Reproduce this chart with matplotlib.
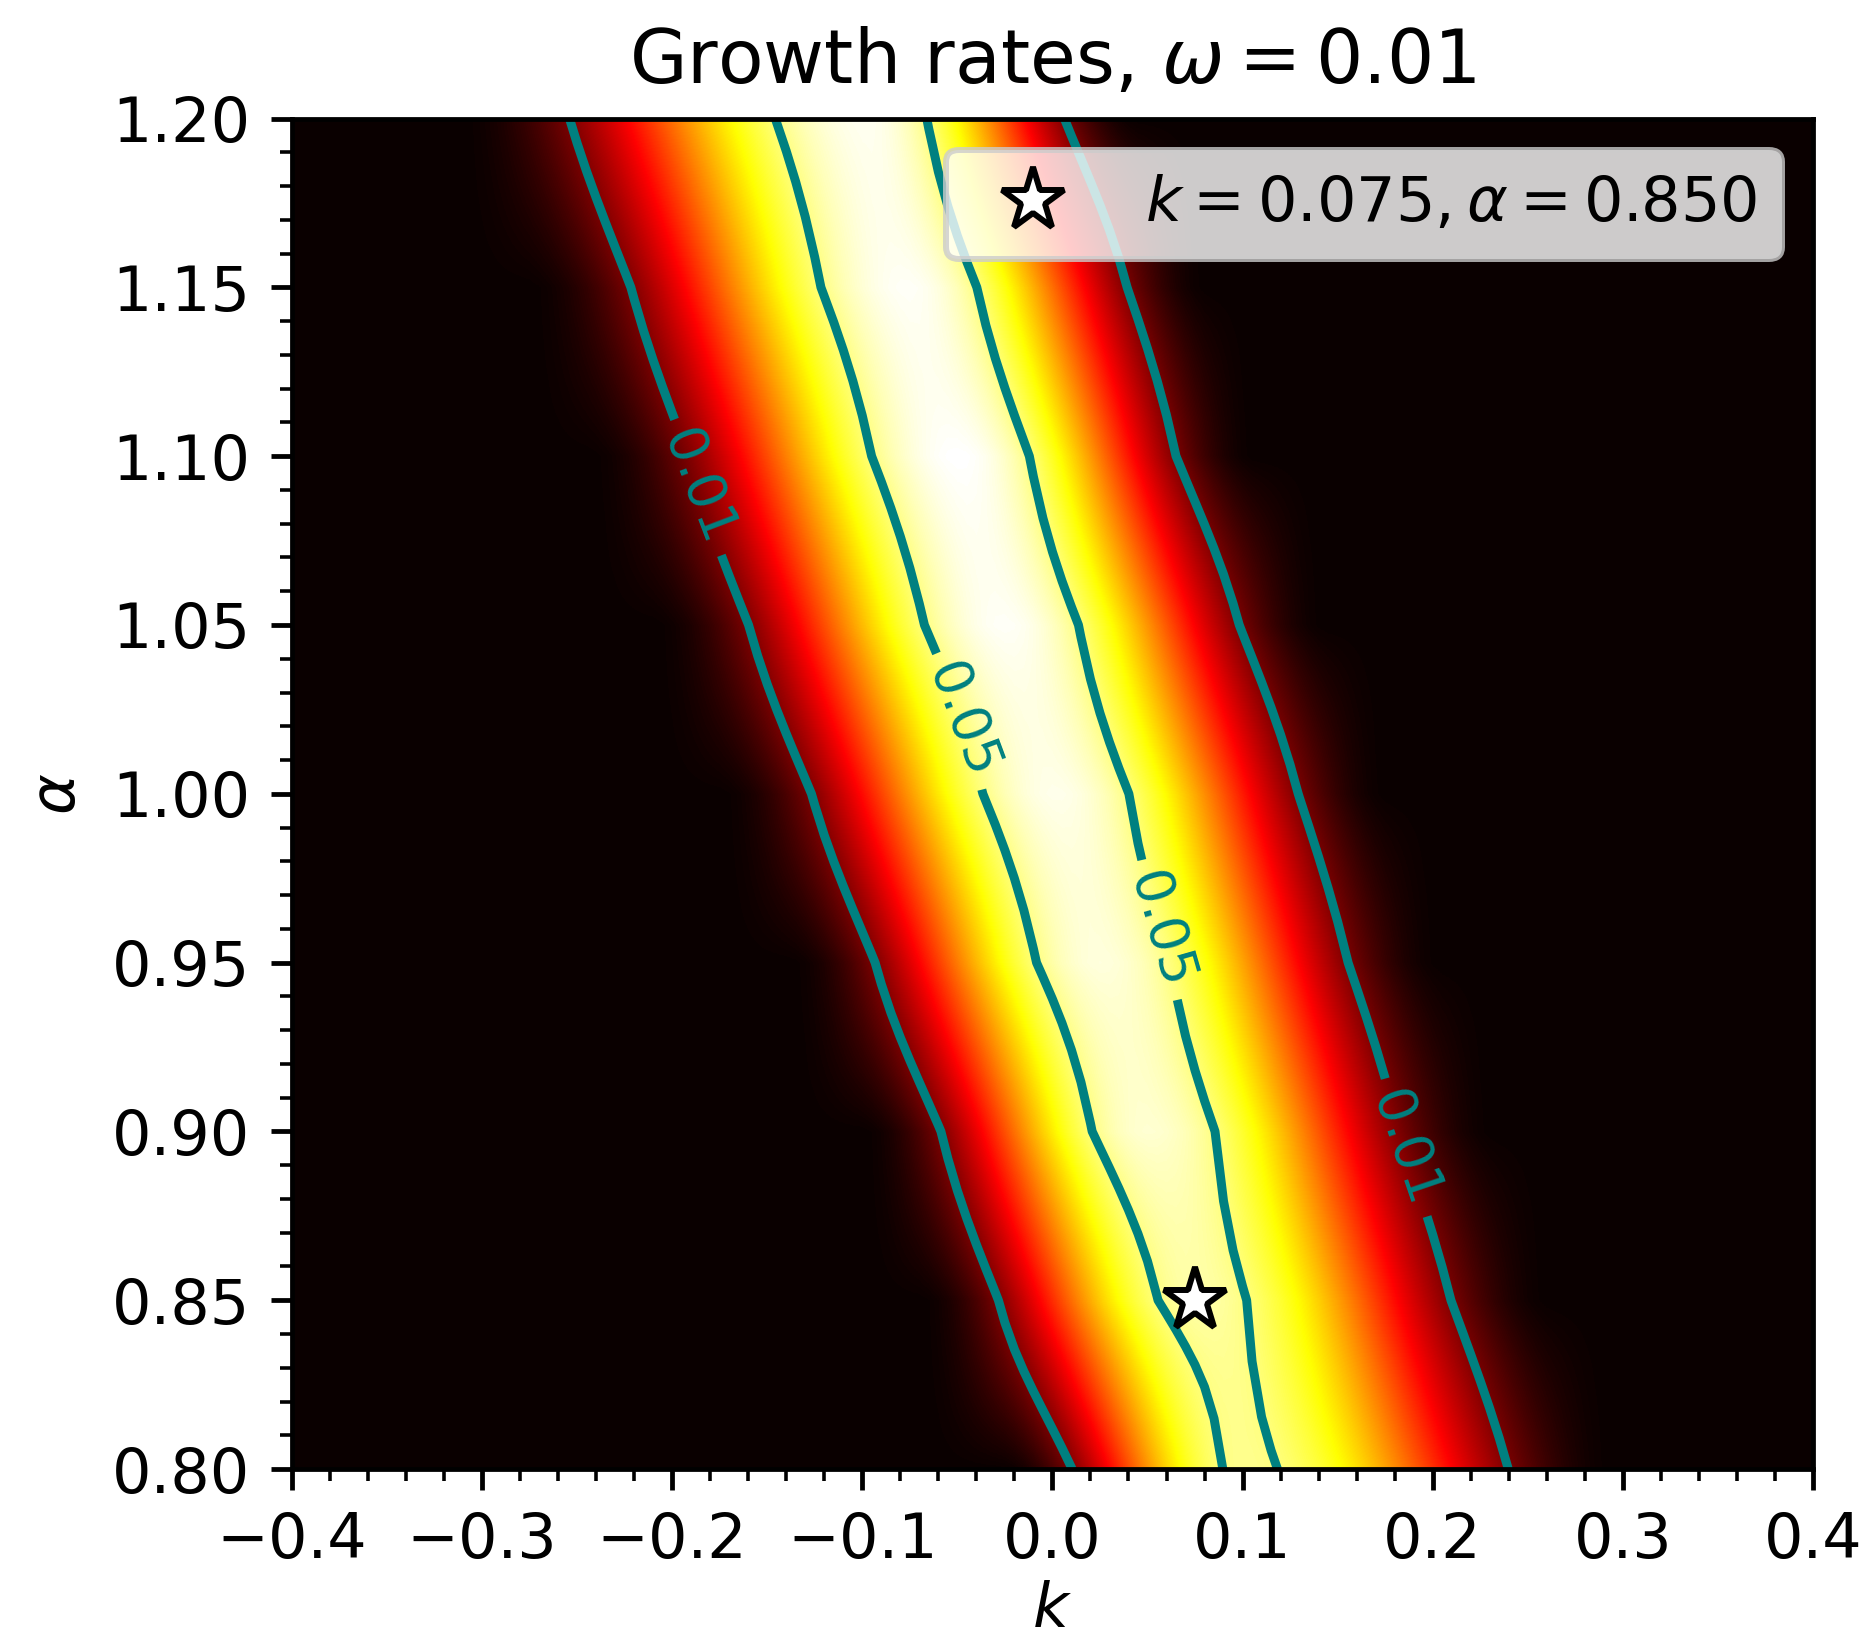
import numpy as np
import matplotlib.pyplot as plt

plt.rcParams['font.size'] = 10.4

# ridge of the growth rate
alpha_rows = np.array([0.80, 0.85, 0.90, 0.95, 1.00, 1.05, 1.10, 1.15, 1.20])
ridge_k = np.array([0.101, 0.076, 0.050, 0.025, 0.002, -0.025, -0.049, -0.076, -0.098])
ridge_peak = np.array([0.0510, 0.0525, 0.0549, 0.0555, 0.0563, 0.0570, 0.0575, 0.0570, 0.0566])
width_left = np.array([0.128, 0.1465, 0.151, 0.164, 0.178, 0.186, 0.196, 0.201, 0.2155])
width_right = np.array([0.196, 0.1875, 0.184, 0.181, 0.176, 0.170, 0.157, 0.159, 0.144])

k_vals = np.linspace(-0.4, 0.4, 161)
levels = [0.01, 0.05]

k_best = 0.075
alpha_best = 0.850
omega = 0.01

# growth rate field on the (alpha, k) grid
rates = np.zeros((len(alpha_rows), len(k_vals)))
for i in range(len(alpha_rows)):
    d = k_vals - ridge_k[i]
    w = np.where(d < 0, width_left[i], width_right[i])
    u = np.clip(np.abs(d) / w, 0, 1)
    rates[i] = ridge_peak[i] * np.cos(0.5 * np.pi * u) ** 2

fig = plt.figure(figsize=(1869 / 430, 1651 / 430), dpi=430)
ax = fig.add_axes([0.1562, 0.1102, 0.9700 - 0.1562, 0.9282 - 0.1102])

dk = k_vals[1] - k_vals[0]
da = alpha_rows[1] - alpha_rows[0]
ax.imshow(rates, origin='lower', cmap='hot', aspect='auto',
          interpolation='bilinear', interpolation_stage='data',
          extent=[k_vals[0] - dk / 2, k_vals[-1] + dk / 2,
                  alpha_rows[0] - da / 2, alpha_rows[-1] + da / 2],
          vmin=0)

K, A = np.meshgrid(k_vals, alpha_rows)
cs = ax.contour(K, A, rates, levels=levels, colors='teal', linewidths=1.5)
ax.clabel(cs, fmt='%.2f', fontsize=9,
          manual=[(-0.19, 1.09), (-0.055, 1.02), (0.058, 0.96), (0.185, 0.895)])

ax.plot(k_best, alpha_best, '*', ms=11, mfc='white', mec='black',
        label=rf'$k = {k_best:.3f}, \alpha = {alpha_best:.3f}$')
ax.legend(loc='upper right')

ax.set_xlim(-0.4, 0.4)
ax.set_ylim(0.8, 1.2)
ax.minorticks_on()
ax.set_xlabel('$k$', labelpad=1.5)
ax.set_ylabel(r'$\alpha$')
ax.set_title(rf'Growth rates, $\omega = {omega}$')

fig.savefig('out.png', dpi=430)
